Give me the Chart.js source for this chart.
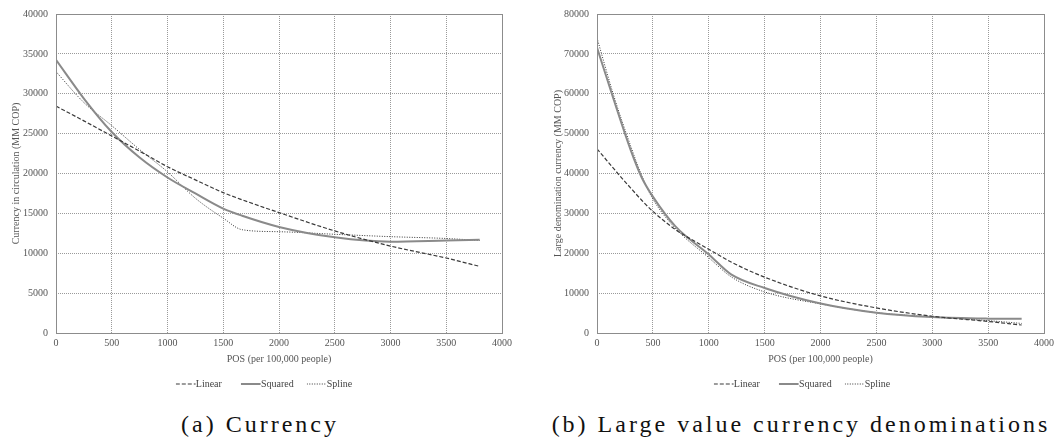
<!DOCTYPE html>
<html>
<head>
<meta charset="utf-8">
<script src="https://cdn.jsdelivr.net/npm/chart.js@4/dist/chart.umd.min.js"></script>
<style>
  html, body { margin: 0; padding: 0; background: #fff; }
  #page { position: relative; width: 1058px; height: 442px; font-family: "Liberation Serif", serif; }
  .box { position: absolute; top: 0; height: 400px; }
  #boxA { left: 0; width: 530px; }
  #boxB { left: 530px; width: 528px; }
  .legend { position: absolute; top: 378px; height: 14px; font-size: 10px; color: #444; white-space: nowrap; transform: translateX(-50%); }
  .legend span { display: inline-block; }
  .legend svg { vertical-align: middle; margin-right: 0; position: relative; top: -1px; }
  #legA { left: 264px; }
  #legB { left: 802px; }
  .cap { position: absolute; top: 411px; font-size: 24px; letter-spacing: 3px; color: #111; white-space: nowrap; transform: translateX(-50%); }
  #capA { left: 260px; }
  #capB { left: 801px; }
</style>
</head>
<body>
<div id="page">
  <div class="box" id="boxA"><canvas id="chartA"></canvas></div>
  <div class="box" id="boxB"><canvas id="chartB"></canvas></div>
  <div class="legend" id="legA"></div>
  <div class="legend" id="legB"></div>
  <div class="cap" id="capA">(a) Currency</div>
  <div class="cap" id="capB">(b) Large value currency denominations</div>
</div>
<script>
// Panel (a): currency in circulation vs POS
const posA = [0, 250, 500, 750, 1000, 1250, 1500, 1670, 2000, 2500, 3000, 3500, 3800];
const linearA = [28450, 26600, 24700, 22800, 20850, 19200, 17600, 16700, 15100, 12800, 10900, 9400, 8350];
const squaredA = [34250, 29400, 25200, 22000, 19500, 17500, 15600, 14700, 13300, 12000, 11450, 11600, 11700];
const splineA = [32770, 28900, 26000, 23000, 20200, 16900, 14400, 12950, 12700, 12380, 12080, 11850, 11600];

// Panel (b): large denomination currency vs POS
const posB = [0, 150, 300, 400, 500, 700, 1000, 1200, 1500, 2000, 2500, 3000, 3500, 3800];
const linearB = [46200, 41200, 36400, 33300, 30500, 26000, 21000, 17800, 14000, 9300, 6300, 4200, 2900, 2000];
const squaredB = [71600, 58500, 46000, 39000, 34200, 26800, 19700, 14700, 11300, 7400, 5100, 4000, 3600, 3550];
const splineB = [74000, 59500, 47000, 39500, 33600, 26300, 18900, 14100, 10300, 7300, 5100, 4000, 3100, 2400];

const seriesNames = ['Linear', 'Squared', 'Spline'];
const xTitle = 'POS (per 100,000 people)';
const yTitleA = 'Currency in circulation (MM COP)';
const yTitleB = 'Large denomination currency (MM COP)';

const fontName = 'Liberation Serif';
const textColor = '#555';

// estilos de cada serie: color, grosor, guiones
const lineStyles = [
    { color: '#3a3a3a', width: 1.2, dash: [4, 2] },
    { color: '#8a8a8a', width: 2, dash: [] },
    { color: '#333333', width: 1, dash: [1, 1.5] }
];
const legendGaps = [19, 13, 0];

Chart.defaults.font.family = fontName;
Chart.defaults.font.size = 10;

function pts(xs, ys) {
    return xs.map((x, i) => ({ x: x, y: ys[i] }));
}

// marco gris alrededor del área del gráfico
const frame = {
    id: 'frame',
    afterDraw(chart) {
        const a = chart.chartArea;
        const ctx = chart.ctx;
        ctx.save();
        ctx.strokeStyle = '#8c8c8c';
        ctx.lineWidth = 1;
        ctx.setLineDash([]);
        ctx.strokeRect(Math.round(a.left) + 0.5, Math.round(a.top) + 0.5, Math.round(a.right - a.left), Math.round(a.bottom - a.top));
        ctx.restore();
    }
};

function makeChart(id, xs, series, yMax, yStep, yTitle, yWidth, pad) {
    const ctx = document.getElementById(id).getContext('2d');
    return new Chart(ctx, {
        type: 'line',
        data: {
            datasets: series.map((ys, i) => ({
                label: seriesNames[i],
                data: pts(xs, ys),
                borderColor: lineStyles[i].color,
                borderWidth: lineStyles[i].width,
                borderDash: lineStyles[i].dash,
                cubicInterpolationMode: 'monotone',
                pointRadius: 0,
                fill: false
            }))
        },
        options: {
            responsive: true,
            maintainAspectRatio: false,
            animation: false,
            layout: { padding: pad },
            plugins: {
                legend: { display: false },
                tooltip: { enabled: false }
            },
            scales: {
                x: {
                    type: 'linear',
                    min: 0,
                    max: 4000,
                    ticks: {
                        stepSize: 500,
                        color: textColor,
                        padding: 4,
                        font: { family: fontName, size: 10 },
                        maxRotation: 0,
                        callback: v => String(v)
                    },
                    grid: { color: '#9a9a9a', lineWidth: 1, drawTicks: false },
                    border: { display: false, dash: [1, 1] },
                    title: {
                        display: true,
                        text: xTitle,
                        color: textColor,
                        font: { family: fontName, size: 10 },
                        padding: { top: 0, bottom: 0 }
                    }
                },
                y: {
                    min: 0,
                    max: yMax,
                    ticks: {
                        stepSize: yStep,
                        color: textColor,
                        padding: 8,
                        font: { family: fontName, size: 10 },
                        callback: v => String(v)
                    },
                    grid: { color: '#9a9a9a', lineWidth: 1, drawTicks: false },
                    border: { display: false, dash: [1, 1] },
                    title: {
                        display: true,
                        text: yTitle,
                        color: textColor,
                        font: { family: fontName, size: 10 },
                        padding: { top: 0, bottom: 2 }
                    },
                    afterFit: function(scale) { scale.width = yWidth; }
                }
            }
        },
        plugins: [frame]
    });
}

// leyenda en HTML con muestras de línea
function buildLegend(elId) {
    const el = document.getElementById(elId);
    el.innerHTML = seriesNames.map((name, i) => {
        const s = lineStyles[i];
        return '<span style="margin-right:' + legendGaps[i] + 'px"><svg width="20" height="6"><line x1="0" y1="3" x2="20" y2="3" stroke="' + s.color +
            '" stroke-width="' + s.width + '" stroke-dasharray="' + (s.dash.length ? s.dash.join(',') : 'none') +
            '"/></svg>' + name + '</span>';
    }).join('');
}

const chartA = makeChart('chartA', posA, [linearA, squaredA, splineA], 40000, 5000, yTitleA, 46,
    { top: 11, right: 28, left: 10, bottom: 35 });
const chartB = makeChart('chartB', posB, [linearB, squaredB, splineB], 80000, 10000, yTitleB, 45,
    { top: 11, right: 2, left: 22, bottom: 35 });

// cuadrícula punteada
[chartA, chartB].forEach(c => {
    c.options.scales.x.grid.borderDash = [1, 1];
    c.options.scales.y.grid.borderDash = [1, 1];
    c.update();
});

buildLegend('legA');
buildLegend('legB');
</script>
</body>
</html>
